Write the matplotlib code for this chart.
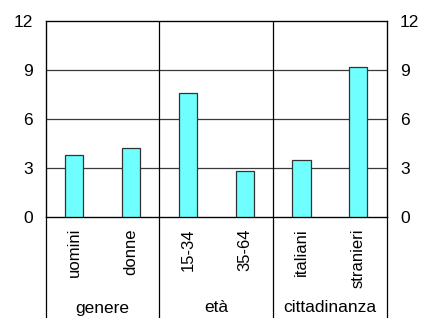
import matplotlib
matplotlib.use("Agg")
import matplotlib.pyplot as plt
import matplotlib.transforms as mtransforms

categories = ["uomini", "donne", "15-34", "35-64", "italiani", "stranieri"]
values = [3.8, 4.2, 7.6, 2.8, 3.5, 9.2]
groups = ["genere", "età", "cittadinanza"]
group_sizes = [2, 2, 2]
yticks = [0, 3, 6, 9, 12]

plt.rcParams['font.family'] = ['Liberation Sans', 'DejaVu Sans']

W, H = 422, 318
fig = plt.figure(figsize=(W / 100, H / 100), dpi=100)
x0, x1, ytop, ybot = 45.7, 386.7, 20.7, 217.0
ax = fig.add_axes([x0 / W, (H - ybot) / H, (x1 - x0) / W, (ybot - ytop) / H])

xs = list(range(len(categories)))
ax.bar(xs, values, width=0.32, color="#6FFFFF", edgecolor="#333333", linewidth=0.9, zorder=3)
ax.set_xlim(-0.5, len(categories) - 0.5)
ax.set_ylim(0, 12)
ax.set_yticks(yticks)
ax.tick_params(axis='y', length=0, pad=9.5, labelsize=12.5)
for y in yticks[1:-1]:
    ax.axhline(y, color="#3a3a3a", linewidth=0.9, zorder=1)
for s in ax.spines.values():
    s.set_color("black")
    s.set_linewidth(0.9)

ax.set_xticks(xs)
ax.set_xticklabels(categories, rotation=90, fontsize=12)
ax.tick_params(axis='x', length=0, pad=8)

ax2 = ax.twinx()
ax2.set_ylim(0, 12)
ax2.set_yticks(yticks)
ax2.tick_params(axis='y', length=0, pad=9.5, labelsize=12.5)

# group dividers
trans = mtransforms.blended_transform_factory(ax.transData, fig.transFigure)
bounds = [-0.5]
for g in group_sizes:
    bounds.append(bounds[-1] + g)
for b in bounds:
    if -0.5 < b < len(categories) - 0.5:
        ax.axvline(b, color="black", linewidth=0.9, zorder=2)
    ax.plot([b, b], [0, (H - ybot) / H], transform=trans, color="black",
            linewidth=0.9, clip_on=False)
for i, g in enumerate(groups):
    cx = (bounds[i] + bounds[i + 1]) / 2
    ax.text(cx, (H - 308) / H, g, transform=trans, ha="center", va="center", fontsize=12.5)

fig.savefig("out.png", dpi=100)
